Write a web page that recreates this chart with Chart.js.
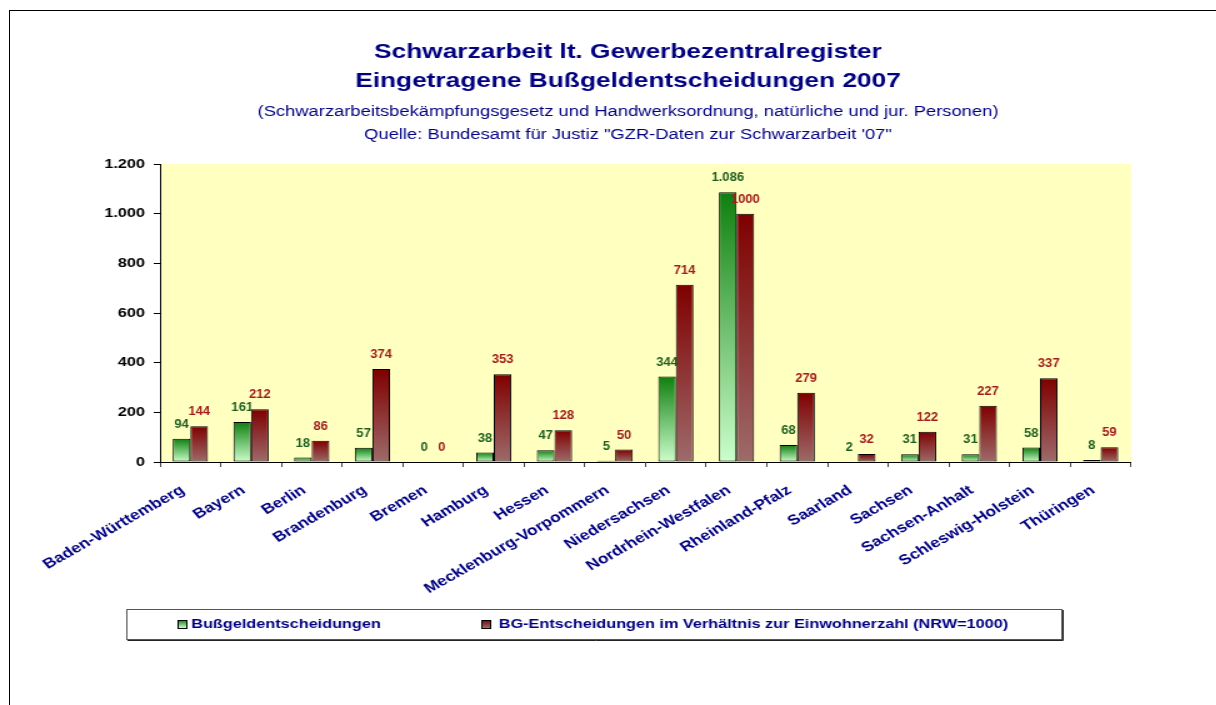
<!DOCTYPE html>
<html>
<head>
<meta charset="utf-8">
<script src="https://cdn.jsdelivr.net/npm/chart.js"></script>
<style>
  html, body { margin: 0; padding: 0; background: #fff; overflow: hidden; }
  #frame { position: absolute; left: 9px; top: 10px; width: 1300px; height: 800px; border: 1px solid #000; }
  /* the reference is stretched sideways, so draw narrow and scale it */
  #wrap { position: absolute; left: 0; top: 0; width: 973px; height: 705px; transform: scaleX(1.25); transform-origin: 0 0; }
</style>
</head>
<body>
<div id="frame"></div>
<div id="wrap"><canvas id="myChart"></canvas></div>
<script>
const states = ['Baden-Württemberg', 'Bayern', 'Berlin', 'Brandenburg', 'Bremen', 'Hamburg', 'Hessen',
  'Mecklenburg-Vorpommern', 'Niedersachsen', 'Nordrhein-Westfalen', 'Rheinland-Pfalz', 'Saarland',
  'Sachsen', 'Sachsen-Anhalt', 'Schleswig-Holstein', 'Thüringen'];
const bussgeld = [94, 161, 18, 57, 0, 38, 47, 5, 344, 1086, 68, 2, 31, 31, 58, 8];
const bgRatio = [144, 212, 86, 374, 0, 353, 128, 50, 714, 1000, 279, 32, 122, 227, 337, 59];
const seriesNames = ['Bußgeldentscheidungen', 'BG-Entscheidungen im Verhältnis zur Einwohnerzahl (NRW=1000)'];
const yMax = 1200, yStep = 200;

const navy = '#000080';
const greenTop = '#0f7f0f', greenBottom = '#ccffcc';
const redTop = '#7f0000', redBottom = '#9e6b6b';
const font = '"Liberation Sans", Arial, sans-serif';

// german thousands separator
function fmt(v) {
  return String(v).replace(/\B(?=(\d{3})+(?!\d))/g, '.');
}

function barGradient(top, bottom) {
  return function (ctx) {
    const chart = ctx.chart;
    if (!chart.chartArea || ctx.type !== 'data') return top;
    const y = chart.scales.y;
    const y0 = y.getPixelForValue(ctx.raw);
    const y1 = y.getPixelForValue(0);
    if (y1 - y0 < 1) return top;
    const g = chart.ctx.createLinearGradient(0, y0, 0, y1);
    g.addColorStop(0, top);
    g.addColorStop(1, bottom);
    return g;
  };
}

// value labels above the bars (undo the sideways stretch for these)
const valueLabels = {
  id: 'valueLabels',
  afterDatasetsDraw(chart) {
    const ctx = chart.ctx;
    chart.data.datasets.forEach((ds, i) => {
      const meta = chart.getDatasetMeta(i);
      meta.data.forEach((bar, j) => {
        const v = ds.data[j];
        const txt = i === 0 ? fmt(v) : String(v);
        ctx.save();
        ctx.font = 'bold 13px ' + font;
        ctx.textAlign = 'center';
        ctx.textBaseline = 'alphabetic';
        ctx.fillStyle = ds.labelColor;
        ctx.translate(bar.x, bar.y - 11);
        ctx.scale(0.8, 1);
        ctx.fillText(txt, 0, 0);
        ctx.restore();
      });
    });
  }
};

// legend box under the chart
const boxLegend = {
  id: 'boxLegend',
  afterDraw(chart) {
    const ctx = chart.ctx;
    ctx.save();
    ctx.strokeStyle = '#555';
    ctx.lineWidth = 1;
    ctx.strokeRect(101.5, 609.5, 748, 30);
    ctx.strokeStyle = '#222';
    ctx.beginPath();
    ctx.moveTo(850.5, 610);
    ctx.lineTo(850.5, 640.5);
    ctx.lineTo(102, 640.5);
    ctx.stroke();
    const items = [
      { x: 142.5, tx: 153, top: greenTop, bottom: greenBottom },
      { x: 385.5, tx: 399, top: redTop, bottom: redBottom }
    ];
    ctx.font = 'bold 13px ' + font;
    ctx.textBaseline = 'middle';
    ctx.textAlign = 'left';
    items.forEach((it, i) => {
      const g = ctx.createLinearGradient(0, 620, 0, 628);
      g.addColorStop(0, it.top);
      g.addColorStop(1, it.bottom);
      ctx.fillStyle = g;
      ctx.fillRect(it.x, 620.5, 7, 8);
      ctx.strokeStyle = '#000';
      ctx.strokeRect(it.x, 620.5, 7, 8);
      ctx.fillStyle = navy;
      ctx.fillText(chart.data.datasets[i].label, it.tx, 624.5);
    });
    ctx.restore();
  }
};

// yellow plot background
const plotBg = {
  id: 'plotBg',
  beforeDraw(chart) {
    const a = chart.chartArea;
    chart.ctx.save();
    chart.ctx.fillStyle = '#ffffc0';
    chart.ctx.fillRect(a.left, a.top, a.right - a.left, a.bottom - a.top);
    chart.ctx.restore();
  }
};

new Chart(document.getElementById('myChart'), {
  type: 'bar',
  data: {
    labels: states,
    datasets: [
      {
        label: seriesNames[0],
        data: bussgeld,
        backgroundColor: barGradient(greenTop, greenBottom),
        borderColor: '#000',
        borderWidth: 1,
        borderSkipped: false,
        labelColor: '#1e5e1e'
      },
      {
        label: seriesNames[1],
        data: bgRatio,
        backgroundColor: barGradient(redTop, redBottom),
        borderColor: '#000',
        borderWidth: 1,
        borderSkipped: false,
        labelColor: '#a01c1c'
      }
    ]
  },
  options: {
    responsive: true,
    maintainAspectRatio: false,
    animation: false,
    categoryPercentage: 0.58,
    barPercentage: 1,
    layout: { padding: { left: 100, right: 68.2, top: 10, bottom: 103 } },
    plugins: {
      legend: { display: false },
      tooltip: { enabled: false },
      title: {
        display: true,
        text: ['Schwarzarbeit lt. Gewerbezentralregister', 'Eingetragene Bußgeldentscheidungen 2007'],
        color: navy,
        font: { family: font, size: 21, weight: 'bold', lineHeight: '29.5px' },
        padding: { top: 27, bottom: 2 }
      },
      subtitle: {
        display: true,
        text: ['(Schwarzarbeitsbekämpfungsgesetz und Handwerksordnung, natürliche und jur. Personen)',
          'Quelle: Bundesamt für Justiz "GZR-Daten zur Schwarzarbeit \'07"'],
        color: navy,
        font: { family: font, size: 14.7, lineHeight: '23px' },
        padding: { top: 2.5, bottom: 17.5 }
      }
    },
    scales: {
      x: {
        afterFit: s => { s.height = 140; },
        border: { display: true, color: '#000', width: 1 },
        grid: { display: true, drawOnChartArea: false, drawTicks: true, tickLength: 5, color: '#444', offset: true },
        ticks: {
          autoSkip: false,
          minRotation: 35,
          maxRotation: 35,
          padding: 15,
          labelOffset: -6,
          color: navy,
          font: { family: font, size: 14, weight: 'bold' }
        }
      },
      y: {
        min: 0,
        max: yMax,
        afterFit: s => {
          s.width = 28;
          // labels are wider than the axis box, don't clip them
          s._computeLabelArea = () => undefined;
        },
        border: { display: true, color: '#000', width: 1 },
        grid: { display: true, drawOnChartArea: false, drawTicks: true, tickLength: 5, color: '#000' },
        ticks: {
          stepSize: yStep,
          padding: 7,
          color: '#000',
          font: { family: font, size: 13, weight: 'bold' },
          callback: v => fmt(v)
        }
      }
    }
  },
  plugins: [plotBg, valueLabels, boxLegend]
});
</script>
</body>
</html>
